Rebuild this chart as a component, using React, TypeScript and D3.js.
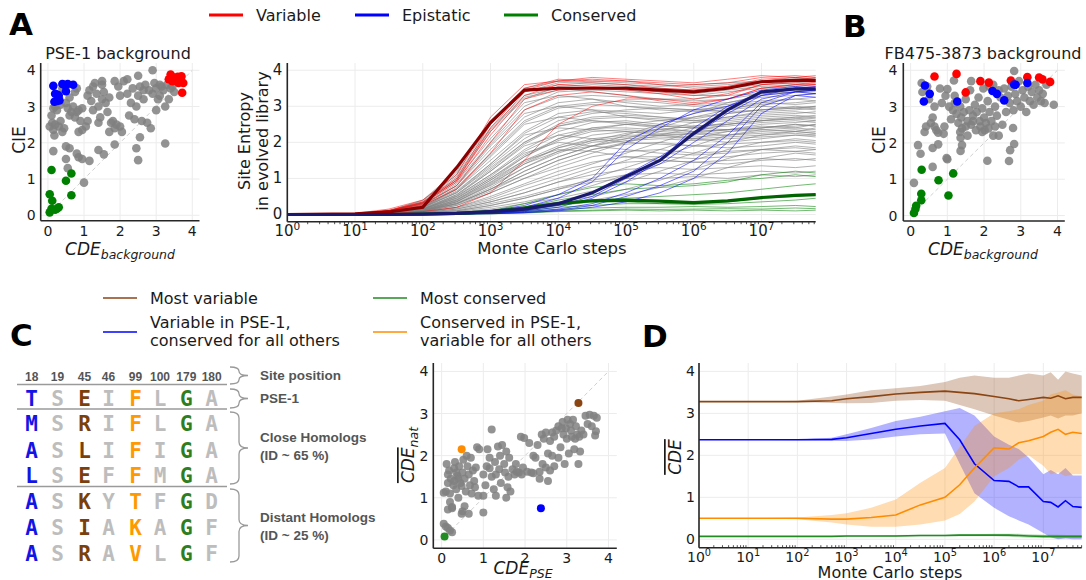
import * as d3 from "d3";

const FONT = "'DejaVu Sans', sans-serif";
const MONO = "'DejaVu Sans Mono', monospace";
const ARIAL = "'Liberation Sans', Arial, sans-serif";
const AXIS = "#262626";
const GRID = "#ececec";
const TXT = "#1a1a1a";

// ---------- panel A / B scatter data (CDE_background, CIE) ----------
const scatterAGray: [number, number][] = [
  [0.05, 2.45], [0.1, 2.75], [0.12, 2.55], [0.15, 2.35], [0.18, 2.2], [0.2, 2.5], [0.25, 2.9], [0.3, 2.45],
  [0.35, 2.6], [0.4, 2.3], [0.45, 2.4], [0.2, 3.0], [0.5, 3.1], [0.55, 2.95], [0.6, 2.75], [0.65, 2.85],
  [0.7, 3.0], [0.75, 2.7], [0.8, 2.85], [0.85, 2.9], [0.9, 2.6], [0.75, 3.4], [0.8, 3.5], [0.85, 2.3],
  [0.95, 2.35], [1.05, 2.45], [1.1, 3.3], [1.15, 3.45], [1.2, 3.15], [1.25, 2.9], [1.3, 3.65], [1.35, 3.35],
  [1.4, 3.0], [1.45, 2.7], [1.5, 3.7], [1.5, 3.2], [1.55, 3.4], [1.6, 3.1], [1.65, 2.85], [1.7, 3.25],
  [1.75, 2.55], [1.8, 2.6], [1.85, 2.4], [1.9, 2.5], [1.95, 3.55], [2.0, 2.45], [2.05, 2.3], [2.1, 3.7],
  [2.2, 3.35], [2.25, 2.75], [2.3, 3.1], [2.35, 3.5], [2.4, 2.65], [2.45, 3.0], [2.5, 3.3], [2.55, 3.55],
  [2.6, 2.6], [2.65, 3.2], [2.7, 3.6], [2.75, 2.55], [2.8, 3.45], [2.85, 2.4], [2.9, 3.35], [2.95, 3.65],
  [3.0, 2.9], [3.0, 3.5], [3.05, 3.2], [3.1, 3.3], [3.15, 3.55], [3.2, 3.45], [3.25, 3.0], [3.3, 3.6],
  [3.35, 3.2], [3.4, 3.5], [3.45, 3.55], [3.5, 3.4], [2.9, 4.0], [2.5, 3.85], [2.2, 3.75], [1.85, 3.7],
  [1.5, 3.6], [1.4, 2.55], [1.7, 2.3], [1.1, 2.6], [0.95, 2.95], [2.55, 2.15], [2.45, 1.85], [2.5, 1.52],
  [3.25, 1.98], [1.85, 1.95], [1.4, 1.8], [1.55, 1.68], [0.5, 1.9], [0.6, 1.85], [0.5, 1.55], [0.85, 1.6],
  [0.95, 1.55], [1.15, 1.5], [0.8, 1.7], [0.55, 1.3], [1.0, 0.9], [0.15, 1.77], [0.4, 3.5], [0.35, 3.05],
  [0.15, 2.95], [2.65, 3.45], [3.1, 3.6], [2.0, 3.3], [1.25, 3.55], [0.6, 3.25],
];
const scatterARed: [number, number][] = [
  [3.35, 3.75], [3.4, 3.88], [3.45, 3.7], [3.5, 3.8], [3.55, 3.75], [3.6, 3.82], [3.65, 3.72], [3.7, 3.83],
  [3.75, 3.65], [3.72, 3.38], [3.5, 3.72], [3.62, 3.65],
];
const scatterABlue: [number, number][] = [
  [0.15, 3.57], [0.4, 3.62], [0.45, 3.6], [0.55, 3.62], [0.7, 3.6], [0.2, 3.35], [0.25, 3.33], [0.3, 3.3],
  [0.5, 3.42], [0.18, 3.13], [0.25, 3.15], [0.32, 3.17],
];
const scatterAGreen: [number, number][] = [
  [0.1, 1.25], [0.65, 1.15], [0.5, 0.95], [0.05, 0.58], [0.12, 0.4], [0.65, 0.55], [0.3, 0.22], [0.25, 0.18],
  [0.1, 0.18], [0.05, 0.08], [0.2, 0.15],
];

const scatterBGray: [number, number][] = [
  [0.09, 0.9], [0.2, 1.94], [0.27, 1.7], [0.6, 1.34], [0.6, 1.86], [0.75, 1.96], [1.0, 1.55], [0.98, 1.58],
  [1.36, 2.14], [1.4, 1.94], [1.36, 1.78], [2.09, 1.51], [2.71, 1.8], [2.82, 1.97], [2.68, 1.5], [2.79, 2.41],
  [0.3, 3.65], [0.32, 3.4], [0.45, 3.55], [0.5, 3.2], [0.55, 2.55], [0.42, 2.45], [0.38, 2.3], [0.6, 2.7],
  [0.65, 2.45], [0.7, 2.35], [0.75, 2.28], [0.8, 3.5], [0.85, 3.1], [0.9, 2.25], [0.92, 2.45], [1.0, 3.48],
  [1.05, 3.0], [1.1, 2.65], [1.15, 2.9], [1.18, 3.72], [1.2, 3.3], [1.25, 2.8], [1.3, 2.55], [1.35, 3.0],
  [1.38, 2.7], [1.4, 2.4], [1.45, 2.85], [1.5, 3.2], [1.55, 2.6], [1.6, 2.9], [1.62, 3.45], [1.65, 2.5],
  [1.7, 2.75], [1.75, 3.05], [1.78, 2.35], [1.8, 2.85], [1.85, 3.25], [1.88, 2.6], [1.9, 2.45], [1.95, 2.95],
  [1.98, 3.5], [2.0, 2.7], [2.02, 2.35], [2.05, 2.55], [2.1, 3.15], [2.12, 2.4], [2.15, 2.85], [2.2, 2.6],
  [2.25, 3.6], [2.3, 3.0], [2.35, 2.75], [2.4, 3.45], [2.45, 3.25], [2.5, 2.5], [2.55, 3.5], [2.6, 2.85],
  [2.65, 3.3], [2.7, 3.1], [2.75, 3.55], [2.8, 2.9], [2.82, 3.98], [2.85, 3.35], [2.9, 3.15], [2.95, 3.7],
  [3.0, 3.0], [3.05, 3.45], [3.1, 3.25], [3.15, 2.85], [3.2, 3.55], [3.25, 3.15], [3.3, 3.4], [3.35, 3.05],
  [3.4, 3.6], [3.45, 3.25], [3.5, 3.45], [3.55, 3.15], [3.6, 3.35], [3.65, 3.1], [3.9, 3.05], [1.65, 3.7],
  [2.15, 3.55], [1.35, 2.3], [1.55, 2.2], [2.4, 2.2], [1.2, 3.1], [0.65, 3.0], [0.95, 3.3], [3.7, 3.6],
  [2.25, 2.2], [1.7, 2.6], [1.95, 2.3], [2.3, 2.45], [1.5, 2.45],
];
const scatterBRed: [number, number][] = [
  [0.65, 3.83], [1.25, 3.9], [1.5, 3.39], [1.9, 3.7], [2.13, 3.66], [2.73, 3.72], [3.18, 3.81], [3.5, 3.8],
  [3.59, 3.75], [3.8, 3.68],
];
const scatterBBlue: [number, number][] = [
  [0.39, 3.58], [0.52, 3.35], [0.36, 3.14], [1.27, 3.14], [2.23, 3.43], [2.35, 3.35], [2.55, 3.17], [2.82, 3.61],
  [2.86, 3.6], [3.18, 3.65],
];
const scatterBGreen: [number, number][] = [
  [0.3, 1.26], [1.16, 1.16], [0.76, 0.97], [0.29, 0.6], [0.29, 0.42], [1.03, 0.55], [0.15, 0.27], [0.13, 0.18],
  [0.09, 0.07],
];

// ---------- panel A: site entropy trajectories (log10 MC steps) ----------
const entropySteps = [0, 1, 1.5, 2, 2.5, 3, 3.5, 4, 4.5, 5, 5.5, 6, 6.5, 7, 7.5, 7.8];
const entropyGray: number[][] = [
  [0, 0.02, 0.1, 0.4, 1.2, 2.6, 3.5, 3.7, 3.65, 3.6, 3.55, 3.6, 3.65, 3.7, 3.75, 3.8],
  [0, 0.02, 0.08, 0.3, 0.9, 2.0, 3.0, 3.4, 3.45, 3.4, 3.35, 3.3, 3.4, 3.5, 3.55, 3.6],
  [0, 0.01, 0.06, 0.25, 0.8, 1.8, 2.7, 3.1, 3.2, 3.1, 3.0, 3.05, 3.1, 3.25, 3.3, 3.35],
  [0, 0.01, 0.05, 0.2, 0.7, 1.5, 2.3, 2.8, 2.9, 2.85, 2.8, 2.9, 3.0, 3.1, 3.05, 3.1],
  [0, 0.01, 0.05, 0.2, 0.6, 1.3, 2.0, 2.5, 2.7, 2.75, 2.7, 2.65, 2.8, 2.9, 2.95, 3.0],
  [0, 0.01, 0.04, 0.15, 0.5, 1.1, 1.8, 2.3, 2.55, 2.6, 2.5, 2.45, 2.5, 2.6, 2.7, 2.65],
  [0, 0.01, 0.04, 0.15, 0.45, 1.0, 1.6, 2.1, 2.4, 2.5, 2.45, 2.4, 2.35, 2.4, 2.5, 2.45],
  [0, 0.01, 0.03, 0.12, 0.4, 0.9, 1.5, 1.9, 2.2, 2.3, 2.25, 2.2, 2.3, 2.35, 2.3, 2.4],
  [0, 0.01, 0.03, 0.1, 0.35, 0.8, 1.3, 1.7, 2.0, 2.1, 2.15, 2.1, 2.0, 2.1, 2.2, 2.15],
  [0, 0.01, 0.03, 0.1, 0.3, 0.7, 1.1, 1.5, 1.8, 1.95, 2.0, 1.9, 1.85, 1.9, 2.0, 1.95],
  [0, 0.01, 0.02, 0.08, 0.25, 0.6, 1.0, 1.3, 1.6, 1.75, 1.8, 1.7, 1.75, 1.8, 1.85, 1.8],
  [0, 0.01, 0.02, 0.07, 0.2, 0.5, 0.85, 1.2, 1.45, 1.6, 1.6, 1.55, 1.6, 1.7, 1.75, 1.7],
  [0, 0.01, 0.02, 0.06, 0.18, 0.4, 0.7, 1.0, 1.3, 1.45, 1.5, 1.45, 1.4, 1.5, 1.55, 1.5],
  [0, 0.01, 0.02, 0.05, 0.15, 0.35, 0.6, 0.9, 1.1, 1.25, 1.3, 1.25, 1.3, 1.35, 1.3, 1.35],
  [0, 0, 0.01, 0.04, 0.12, 0.3, 0.5, 0.75, 0.95, 1.1, 1.15, 1.1, 1.15, 1.2, 1.15, 1.2],
  [0, 0, 0.01, 0.04, 0.1, 0.25, 0.45, 0.7, 0.9, 1.0, 1.0, 1.05, 1.0, 1.1, 1.05, 1.1],
  [0, 0.02, 0.09, 0.35, 1.1, 2.4, 3.3, 3.5, 3.4, 3.3, 3.2, 3.2, 3.3, 3.35, 3.4, 3.45],
  [0, 0.02, 0.07, 0.3, 0.95, 2.1, 3.1, 3.3, 3.2, 3.0, 2.9, 2.85, 2.9, 3.0, 2.95, 3.0],
  [0, 0.01, 0.06, 0.25, 0.8, 1.9, 2.8, 3.0, 2.9, 2.7, 2.6, 2.55, 2.6, 2.7, 2.75, 2.7],
  [0, 0.01, 0.05, 0.2, 0.7, 1.6, 2.5, 2.7, 2.6, 2.5, 2.4, 2.3, 2.35, 2.4, 2.5, 2.45],
  [0, 0.01, 0.05, 0.2, 0.65, 1.4, 2.2, 2.4, 2.35, 2.3, 2.2, 2.1, 2.15, 2.2, 2.25, 2.2],
  [0, 0.01, 0.04, 0.15, 0.55, 1.2, 1.9, 2.2, 2.1, 2.0, 1.95, 1.9, 1.95, 2.0, 2.05, 2.0],
  [0, 0.01, 0.04, 0.14, 0.5, 1.1, 1.7, 2.0, 1.9, 1.8, 1.7, 1.65, 1.7, 1.8, 1.75, 1.8],
  [0, 0.01, 0.03, 0.12, 0.4, 0.95, 1.5, 1.8, 1.75, 1.6, 1.5, 1.45, 1.5, 1.55, 1.5, 1.55],
  [0, 0.01, 0.03, 0.1, 0.35, 0.85, 1.4, 1.75, 1.9, 2.1, 2.4, 2.7, 2.9, 3.1, 3.2, 3.15],
  [0, 0.01, 0.03, 0.1, 0.3, 0.7, 1.2, 1.6, 1.9, 2.2, 2.5, 2.8, 3.1, 3.3, 3.4, 3.35],
  [0, 0.01, 0.02, 0.08, 0.25, 0.6, 1.0, 1.4, 1.7, 2.0, 2.3, 2.55, 2.7, 2.85, 2.9, 2.95],
  [0, 0.01, 0.02, 0.06, 0.2, 0.45, 0.8, 1.1, 1.4, 1.7, 2.0, 2.3, 2.5, 2.6, 2.65, 2.7],
  [0, 0.01, 0.02, 0.05, 0.15, 0.35, 0.6, 0.9, 1.2, 1.5, 1.8, 2.1, 2.3, 2.4, 2.45, 2.5],
  [0, 0, 0.01, 0.04, 0.1, 0.25, 0.45, 0.7, 1.0, 1.3, 1.6, 1.9, 2.2, 2.35, 2.4, 2.35],
  [0, 0, 0.01, 0.03, 0.08, 0.2, 0.35, 0.55, 0.8, 1.1, 1.4, 1.7, 2.0, 2.2, 2.3, 2.25],
  [0, 0, 0.01, 0.03, 0.07, 0.15, 0.3, 0.45, 0.65, 0.9, 1.2, 1.5, 1.8, 2.0, 2.1, 2.05],
  [0, 0, 0.01, 0.02, 0.05, 0.12, 0.22, 0.35, 0.5, 0.7, 0.95, 1.25, 1.55, 1.8, 1.9, 1.85],
  [0, 0, 0.01, 0.02, 0.04, 0.1, 0.18, 0.28, 0.4, 0.55, 0.75, 1.0, 1.3, 1.55, 1.7, 1.65],
  [0, 0.02, 0.1, 0.38, 1.15, 2.5, 3.4, 3.65, 3.7, 3.65, 3.6, 3.55, 3.6, 3.7, 3.8, 3.75],
  [0, 0.02, 0.08, 0.32, 1.0, 2.3, 3.2, 3.55, 3.6, 3.55, 3.5, 3.45, 3.5, 3.6, 3.65, 3.7],
  [0, 0.01, 0.06, 0.22, 0.75, 1.7, 2.6, 3.0, 3.1, 3.15, 3.1, 3.0, 3.05, 3.15, 3.2, 3.25],
  [0, 0.01, 0.05, 0.18, 0.6, 1.35, 2.1, 2.6, 2.8, 2.9, 2.95, 2.9, 2.85, 2.9, 3.0, 2.95],
  [0, 0.01, 0.04, 0.16, 0.52, 1.2, 1.95, 2.45, 2.65, 2.7, 2.65, 2.6, 2.65, 2.75, 2.8, 2.85],
  [0, 0.01, 0.03, 0.11, 0.38, 0.88, 1.45, 1.85, 2.05, 2.15, 2.2, 2.25, 2.35, 2.5, 2.55, 2.6],
  [0, 0.02, 0.09, 0.33, 1.05, 2.35, 3.25, 3.45, 3.5, 3.45, 3.4, 3.35, 3.45, 3.55, 3.6, 3.65],
  [0, 0.01, 0.07, 0.27, 0.85, 1.95, 2.9, 3.25, 3.3, 3.25, 3.2, 3.15, 3.2, 3.35, 3.45, 3.4],
  [0, 0.01, 0.06, 0.23, 0.72, 1.65, 2.55, 2.95, 3.05, 3.0, 2.95, 2.9, 2.95, 3.05, 3.1, 3.15],
  [0, 0.01, 0.05, 0.19, 0.62, 1.4, 2.25, 2.7, 2.85, 2.8, 2.7, 2.6, 2.7, 2.8, 2.85, 2.8],
  [0, 0.01, 0.04, 0.17, 0.55, 1.25, 2.0, 2.45, 2.6, 2.55, 2.45, 2.4, 2.45, 2.55, 2.6, 2.55],
  [0, 0.01, 0.04, 0.14, 0.47, 1.05, 1.75, 2.2, 2.4, 2.4, 2.35, 2.3, 2.35, 2.45, 2.4, 2.5],
  [0, 0.01, 0.03, 0.12, 0.42, 0.95, 1.6, 2.05, 2.3, 2.35, 2.3, 2.25, 2.2, 2.3, 2.35, 2.3],
  [0, 0.01, 0.03, 0.11, 0.36, 0.82, 1.4, 1.85, 2.1, 2.2, 2.2, 2.15, 2.2, 2.25, 2.3, 2.25],
  [0, 0.01, 0.02, 0.09, 0.3, 0.7, 1.2, 1.6, 1.9, 2.05, 2.1, 2.05, 2.1, 2.15, 2.2, 2.2],
  [0, 0.01, 0.03, 0.13, 0.45, 1.0, 1.65, 2.1, 2.35, 2.5, 2.6, 2.7, 2.8, 2.9, 2.95, 2.9],
  [0, 0.01, 0.02, 0.08, 0.28, 0.65, 1.1, 1.5, 1.8, 2.0, 2.2, 2.4, 2.55, 2.65, 2.7, 2.75],
  [0, 0.01, 0.02, 0.1, 0.32, 0.75, 1.3, 1.75, 2.05, 2.25, 2.35, 2.45, 2.5, 2.6, 2.65, 2.6],
];
const entropyRed: number[][] = [
  [0, 0.02, 0.1, 0.3, 0.9, 2.2, 3.3, 3.6, 3.65, 3.6, 3.5, 3.45, 3.55, 3.75, 3.8, 3.75],
  [0, 0.02, 0.12, 0.35, 1.0, 2.5, 3.5, 3.75, 3.7, 3.7, 3.65, 3.6, 3.65, 3.8, 3.85, 3.8],
  [0, 0.03, 0.15, 0.4, 1.1, 2.7, 3.6, 3.7, 3.75, 3.7, 3.6, 3.5, 3.55, 3.7, 3.75, 3.7],
  [0, 0.02, 0.1, 0.28, 0.8, 2.0, 3.2, 3.45, 3.5, 3.45, 3.35, 3.2, 3.35, 3.6, 3.65, 3.6],
  [0, 0.02, 0.08, 0.25, 0.7, 1.7, 2.9, 3.3, 3.4, 3.3, 3.15, 3.05, 3.2, 3.5, 3.6, 3.55],
  [0, 0.01, 0.03, 0.08, 0.2, 0.6, 1.5, 2.5, 3.0, 3.2, 3.2, 3.1, 3.2, 3.5, 3.6, 3.6],
  [0, 0.02, 0.1, 0.32, 0.95, 2.3, 3.4, 3.6, 3.55, 3.5, 3.4, 3.3, 3.3, 3.6, 3.7, 3.65],
  [0, 0.02, 0.11, 0.33, 0.95, 2.4, 3.45, 3.7, 3.8, 3.75, 3.7, 3.65, 3.75, 3.85, 3.8, 3.85],
];
const entropyBlue: number[][] = [
  [0, 0, 0, 0.01, 0.03, 0.07, 0.15, 0.3, 0.6, 1.1, 1.6, 2.2, 2.8, 3.3, 3.5, 3.55],
  [0, 0, 0, 0.01, 0.02, 0.05, 0.1, 0.2, 0.45, 0.9, 1.5, 2.4, 3.0, 3.4, 3.5, 3.45],
  [0, 0, 0, 0.01, 0.03, 0.08, 0.2, 0.45, 0.9, 1.8, 2.4, 2.9, 3.2, 3.45, 3.55, 3.5],
  [0, 0, 0, 0, 0.02, 0.04, 0.08, 0.15, 0.3, 0.6, 1.0, 1.5, 2.2, 3.1, 3.4, 3.45],
  [0, 0, 0, 0, 0.01, 0.03, 0.06, 0.12, 0.25, 0.5, 0.8, 1.2, 2.0, 3.0, 3.3, 3.35],
  [0, 0, 0, 0.01, 0.02, 0.06, 0.12, 0.25, 0.5, 1.0, 1.4, 2.0, 2.6, 3.2, 3.4, 3.35],
  [0, 0, 0, 0.01, 0.04, 0.1, 0.25, 0.55, 1.0, 2.0, 2.5, 2.8, 3.0, 3.3, 3.4, 3.45],
  [0, 0, 0, 0, 0.01, 0.02, 0.05, 0.1, 0.2, 0.35, 0.6, 1.0, 1.7, 2.8, 3.3, 3.25],
];
const entropyGreen: number[][] = [
  [0, 0, 0, 0.01, 0.03, 0.08, 0.2, 0.4, 0.55, 0.7, 0.75, 0.8, 0.9, 1.1, 1.2, 1.15],
  [0, 0, 0, 0.01, 0.03, 0.1, 0.3, 0.55, 0.75, 0.85, 0.8, 0.85, 0.95, 1.0, 1.1, 1.05],
  [0, 0, 0, 0.01, 0.02, 0.06, 0.15, 0.3, 0.4, 0.45, 0.5, 0.55, 0.6, 0.7, 0.8, 0.85],
  [0, 0, 0, 0, 0.02, 0.05, 0.12, 0.25, 0.35, 0.35, 0.3, 0.3, 0.35, 0.45, 0.5, 0.55],
  [0, 0, 0, 0, 0.01, 0.04, 0.1, 0.2, 0.25, 0.3, 0.3, 0.28, 0.3, 0.35, 0.4, 0.45],
  [0, 0, 0, 0, 0.01, 0.03, 0.08, 0.14, 0.18, 0.2, 0.2, 0.22, 0.2, 0.22, 0.25, 0.22],
  [0, 0, 0, 0, 0.01, 0.02, 0.05, 0.1, 0.12, 0.15, 0.14, 0.15, 0.16, 0.15, 0.18, 0.16],
  [0, 0, 0, 0, 0.01, 0.02, 0.04, 0.08, 0.1, 0.12, 0.1, 0.12, 0.1, 0.12, 0.1, 0.12],
];
const entropyRedMean = [0, 0.02, 0.07, 0.2, 1.3, 2.55, 3.45, 3.5, 3.5, 3.5, 3.45, 3.4, 3.5, 3.68, 3.72, 3.72];
const entropyBlueMean = [0, 0, 0, 0.01, 0.03, 0.08, 0.15, 0.3, 0.6, 1.05, 1.5, 2.25, 2.9, 3.4, 3.48, 3.48];
const entropyGreenMean = [0, 0, 0, 0.01, 0.03, 0.08, 0.18, 0.3, 0.38, 0.4, 0.37, 0.33, 0.38, 0.47, 0.53, 0.55];

// ---------- panel C ----------
const sitePositions = ["18", "19", "45", "46", "99", "100", "179", "180"];
const pseRow = "TSEIFLGA";
const closeRows = ["MSRIFLGA", "ASLIFIGA", "LSEFFMGA"];
const distantRows = ["ASKYTFGD", "ASIAKAGF", "ASRAVLGF"];
const siteGroup = ["epi", "other", "var", "other", "cons", "other", "green", "other"];

const cdeGray: [number, number][] = [
  [0.05, 1.12], [0.1, 1.15], [0.12, 1.8], [0.15, 1.55], [0.15, 1.35], [0.18, 1.65], [0.2, 1.1], [0.2, 0.9],
  [0.25, 0.78], [0.22, 1.45], [0.28, 1.3], [0.3, 1.7], [0.32, 1.85], [0.35, 1.2], [0.38, 1.52], [0.4, 1.0],
  [0.42, 1.75], [0.45, 1.35], [0.48, 1.28], [0.5, 1.6], [0.52, 1.9], [0.55, 1.45], [0.58, 1.15], [0.6, 2.0],
  [0.62, 1.75], [0.65, 1.55], [0.68, 1.3], [0.7, 1.95], [0.72, 1.1], [0.75, 1.65], [0.78, 1.4], [0.8, 1.25],
  [0.82, 1.72], [0.85, 2.2], [0.88, 1.05], [0.9, 2.15], [0.5, 0.68], [0.48, 0.62], [0.55, 0.8], [0.65, 0.62],
  [0.15, 0.72], [0.25, 0.75], [0.4, 1.45], [0.35, 1.6], [0.3, 1.4], [1.0, 1.05], [1.05, 1.3], [1.0, 1.55],
  [1.08, 1.75], [1.1, 2.15], [1.15, 1.7], [1.2, 1.5], [1.2, 2.62], [1.25, 1.2], [1.28, 1.85], [1.3, 1.55],
  [1.35, 2.22], [1.38, 1.68], [1.4, 2.0], [1.42, 1.35], [1.45, 2.25], [1.5, 1.8], [1.52, 1.6], [1.55, 2.1],
  [1.58, 1.25], [1.6, 1.5], [1.62, 1.95], [1.65, 1.15], [1.7, 1.68], [1.75, 1.55], [1.78, 1.8], [1.8, 1.62],
  [1.85, 1.6], [1.9, 2.45], [1.92, 1.55], [1.95, 1.72], [1.98, 2.42], [1.0, 0.65], [1.3, 1.05], [1.55, 1.0],
  [1.15, 1.95], [2.05, 1.62], [2.1, 2.3], [2.15, 1.6], [2.2, 2.0], [2.25, 1.95], [2.3, 2.25], [2.35, 1.62],
  [2.4, 2.5], [2.42, 1.8], [2.45, 2.4], [2.5, 1.72], [2.5, 2.55], [2.55, 2.05], [2.55, 1.4], [2.6, 2.35],
  [2.65, 2.55], [2.7, 1.75], [2.7, 2.45], [2.75, 2.6], [2.8, 1.95], [2.8, 2.7], [2.85, 2.2], [2.9, 2.8],
  [2.92, 2.5], [2.95, 1.8], [2.98, 2.65], [3.0, 2.4], [3.02, 2.85], [3.05, 2.05], [3.1, 2.6], [3.12, 2.45],
  [3.15, 2.85], [3.18, 2.15], [3.2, 2.4], [3.22, 2.7], [3.25, 2.5], [3.28, 1.8], [3.3, 2.45], [3.32, 2.1],
  [3.35, 2.6], [3.4, 2.5], [3.45, 2.95], [3.5, 2.75], [3.55, 2.97], [3.6, 2.7], [3.65, 2.95], [3.7, 2.58],
  [3.72, 2.9], [3.68, 2.48], [2.35, 1.45], [2.6, 1.65], [2.65, 2.0], [2.88, 2.65], [3.08, 2.75], [2.2, 1.58],
  [0.05, 0.38], [0.1, 0.32], [0.15, 0.28], [0.25, 0.18], [0.2, 0.22],
];
const cdeMostVariable: [number, number] = [3.28, 3.25];
const cdePseConserved: [number, number] = [0.48, 2.15];
const cdePseVariable: [number, number] = [2.38, 0.75];
const cdeMostConserved: [number, number] = [0.07, 0.08];

// ---------- panel D: mean CDE vs MC steps ----------
const dSteps = [0, 1, 2, 2.7, 3, 3.5, 4, 4.5, 5, 5.3, 5.6, 6, 6.3, 6.5, 6.7, 7, 7.15, 7.3, 7.45, 7.6, 7.78];
const brownMean = [3.28, 3.28, 3.28, 3.3, 3.35, 3.4, 3.46, 3.5, 3.53, 3.5, 3.47, 3.4, 3.35, 3.3, 3.33, 3.38, 3.36, 3.42, 3.35, 3.38, 3.38];
const brownLo = [3.28, 3.28, 3.27, 3.25, 3.24, 3.25, 3.3, 3.32, 3.3, 3.2, 3.1, 2.95, 2.85, 2.78, 2.82, 2.9, 2.95, 2.88, 2.95, 2.95, 3.0];
const brownHi = [3.28, 3.28, 3.3, 3.4, 3.45, 3.55, 3.6, 3.65, 3.75, 3.85, 3.9, 3.85, 3.85, 3.9, 3.95, 3.9, 3.98, 3.8, 4.0, 3.95, 3.9];
const blueMean = [2.37, 2.37, 2.37, 2.38, 2.42, 2.52, 2.62, 2.7, 2.76, 2.37, 1.8, 1.4, 1.38, 1.25, 1.25, 0.9, 0.88, 0.77, 0.92, 0.78, 0.76];
const blueLo = [2.37, 2.37, 2.36, 2.34, 2.34, 2.38, 2.45, 2.5, 2.52, 1.8, 1.1, 0.75, 0.55, 0.45, 0.35, 0.15, 0.05, 0.0, 0.02, 0.0, 0.0];
const blueHi = [2.37, 2.37, 2.38, 2.42, 2.5, 2.65, 2.82, 2.92, 3.05, 3.13, 2.95, 2.45, 2.25, 2.15, 1.95, 1.55, 1.65, 1.55, 1.7, 1.52, 1.52];
const orangeMean = [0.5, 0.5, 0.5, 0.48, 0.48, 0.52, 0.58, 0.82, 1.0, 1.3, 1.7, 2.18, 2.15, 2.3, 2.35, 2.45, 2.55, 2.62, 2.5, 2.55, 2.52];
const orangeLo = [0.5, 0.5, 0.48, 0.4, 0.35, 0.3, 0.3, 0.35, 0.45, 0.6, 0.9, 1.5, 1.7, 1.9, 2.0, 1.75, 1.55, 1.6, 1.5, 1.55, 1.55];
const orangeHi = [0.5, 0.5, 0.52, 0.58, 0.62, 0.75, 0.95, 1.35, 1.7, 2.2, 2.7, 3.0, 3.05, 3.1, 3.2, 3.3, 3.45, 3.5, 3.55, 3.45, 3.4];
const greenMean = [0.07, 0.07, 0.07, 0.07, 0.08, 0.08, 0.08, 0.09, 0.09, 0.1, 0.1, 0.1, 0.1, 0.09, 0.08, 0.07, 0.07, 0.07, 0.07, 0.07, 0.07];
const greenLo = [0.06, 0.06, 0.06, 0.06, 0.06, 0.06, 0.06, 0.07, 0.07, 0.07, 0.07, 0.07, 0.06, 0.05, 0.04, 0.03, 0.03, 0.02, 0.03, 0.03, 0.03];
const greenHi = [0.08, 0.08, 0.08, 0.08, 0.09, 0.09, 0.1, 0.11, 0.11, 0.12, 0.12, 0.13, 0.13, 0.13, 0.12, 0.11, 0.11, 0.11, 0.1, 0.1, 0.1];

const BROWN = "#8b4513";
const ORANGE = "#ff8c00";
const DGREEN = "#228b22";
const SEQ_COLORS: Record<string, string> = {
  epi: "#1414e6",
  other: "#bdbdbd",
  var: "#7b3f0c",
  cons: "#ff9900",
  green: "#2e7d1e",
};

const ticks04 = [0, 1, 2, 3, 4];

function Pow({ x, y, e, size = 14 }: { x: number; y: number; e: number; size?: number }) {
  return (
    <text x={x} y={y} textAnchor="middle" fontSize={size} fill={TXT}>
      <tspan>10</tspan>
      <tspan dy={-size * 0.42} fontSize={size * 0.7}>{e}</tspan>
    </text>
  );
}

function Spines({ x0, x1, y0, y1 }: { x0: number; x1: number; y0: number; y1: number }) {
  return (
    <g stroke={AXIS} strokeWidth={1.6} fill="none">
      <line x1={x0} y1={y0} x2={x0} y2={y1} />
      <line x1={x0} y1={y1} x2={x1} y2={y1} />
    </g>
  );
}

type Pt = [number, number];

function Scatter(props: {
  left: number; right: number; top: number; bottom: number;
  yDom: [number, number]; r: number;
  gray: Pt[]; colored: { pts: Pt[]; color: string }[];
  yGap: number;
}) {
  const { left, right, top, bottom, yDom, r, gray, colored, yGap } = props;
  const x = d3.scaleLinear().domain([-0.2, 4.2]).range([left, right]);
  const y = d3.scaleLinear().domain(yDom).range([bottom, top]);
  return (
    <g>
      {ticks04.map((t) => (
        <g key={t} stroke={GRID} strokeWidth={1}>
          <line x1={x(t)} x2={x(t)} y1={top} y2={bottom} />
          <line x1={left} x2={right} y1={y(t)} y2={y(t)} />
        </g>
      ))}
      <line x1={x(0)} y1={y(0)} x2={x(4)} y2={y(4)} stroke="#d0d0d0" strokeWidth={1} strokeDasharray="4,3" />
      {gray.map((p, i) => (
        <circle key={i} cx={x(p[0])} cy={y(p[1])} r={r} fill="#808080" fillOpacity={0.85} />
      ))}
      {colored.map((c) =>
        c.pts.map((p, i) => <circle key={c.color + i} cx={x(p[0])} cy={y(p[1])} r={r} fill={c.color} />)
      )}
      <Spines x0={left} x1={right} y0={top} y1={bottom} />
      {ticks04.map((t) => (
        <g key={t} fontSize={14} fill={TXT}>
          <text x={x(t)} y={bottom + 15} textAnchor="middle">{t}</text>
          <text x={left - yGap} y={y(t) + 5} textAnchor="end">{t}</text>
        </g>
      ))}
    </g>
  );
}

function Brace({ x, y1, y2, w }: { x: number; y1: number; y2: number; w: number }) {
  const ym = (y1 + y2) / 2;
  const mx = x + w * 0.5;
  const r = Math.min(6, (y2 - y1) / 4);
  const d = `M${x},${y1} Q${mx},${y1} ${mx},${y1 + r} L${mx},${ym - r} Q${mx},${ym} ${x + w},${ym} Q${mx},${ym} ${mx},${ym + r} L${mx},${y2 - r} Q${mx},${y2} ${x},${y2}`;
  return <path d={d} fill="none" stroke="#9a9a9a" strokeWidth={1.3} />;
}

function logMinor(maxExp: number) {
  const out: number[] = [];
  for (let k = 0; k < Math.ceil(maxExp); k++) {
    for (let m = 2; m <= 9; m++) {
      const v = Math.log10(m) + k;
      if (v <= maxExp) out.push(v);
    }
  }
  return out;
}

export default function App() {
  // ---- panel A middle ----
  const aL = 287.3, aR = 815.7, aT = 63, aB = 221.7;
  const ax = d3.scaleLinear().domain([0, 7.8]).range([aL, aR]);
  const ay = d3.scaleLinear().domain([-0.2, 4.2]).range([aB, aT]);
  const aLine = d3.line<number>().x((_, i) => ax(entropySteps[i])).y((v) => ay(v));

  // ---- panel D ----
  const dL = 699, dR = 1081.7, dT = 363, dB = 547.7;
  const dx = d3.scaleLinear().domain([0, 7.78]).range([dL, dR]);
  const dy = d3.scaleLinear().domain([-0.2, 4.2]).range([dB, dT]);
  const dLine = d3.line<number>().x((_, i) => dx(dSteps[i])).y((v) => dy(v));
  const dArea = (lo: number[], hi: number[]) =>
    d3.area<number>().x((_, i) => dx(dSteps[i])).y0((_, i) => dy(lo[i])).y1((v) => dy(v))(hi) || "";

  const decades8 = [0, 1, 2, 3, 4, 5, 6, 7];

  const seqCols = [31.7, 57.5, 84.5, 108.5, 135.5, 160, 186.3, 211.7];
  const rowYs = [398, 423.3, 450, 475, 501.7, 527.3, 553.3];
  const allRows = [pseRow, ...closeRows, ...distantRows];

  return (
    <svg width={1086} height={580} style={{ position: "absolute", left: 0, top: 0, background: "#fff" }} fontFamily={FONT}>
      {/* ================= Panel A ================= */}
      <text x={9} y={35} fontSize={31} fontWeight="bold" fill="#000">A</text>
      <text x={118} y={59} fontSize={16} textAnchor="middle" fill={TXT}>PSE-1 background</text>
      <Scatter left={40.7} right={199.5} top={63} bottom={220.7} yDom={[-0.15, 4.2]} r={4.3} yGap={5}
        gray={scatterAGray}
        colored={[{ pts: scatterABlue, color: "#0000ff" }, { pts: scatterARed, color: "#ff0000" }, { pts: scatterAGreen, color: "#008000" }]} />
      <text transform="translate(25,140) rotate(-90)" fontSize={17} textAnchor="middle" fill={TXT}>CIE</text>
      <text x={120} y={255} textAnchor="middle" fill={TXT} fontStyle="italic">
        <tspan fontSize={17}>CDE</tspan><tspan fontSize={12.5} dy={4}>background</tspan>
      </text>

      {/* legend */}
      {[
        { c: "#ff0000", t: "Variable", x: 209 },
        { c: "#0000ff", t: "Epistatic", x: 355 },
        { c: "#008000", t: "Conserved", x: 504 },
      ].map((l) => (
        <g key={l.t}>
          <line x1={l.x} x2={l.x + 34} y1={15} y2={15} stroke={l.c} strokeWidth={3} />
          <text x={l.x + 47} y={21} fontSize={16} fill={TXT}>{l.t}</text>
        </g>
      ))}

      {/* middle entropy plot */}
      {decades8.map((k) => (
        <line key={k} x1={ax(k)} x2={ax(k)} y1={aT} y2={aB} stroke={GRID} />
      ))}
      {ticks04.map((t) => (
        <line key={t} x1={aL} x2={aR} y1={ay(t)} y2={ay(t)} stroke={GRID} />
      ))}
      <g fill="none">
        {entropyGray.map((s, i) => (
          <path key={i} d={aLine(s) || ""} stroke="#808080" strokeOpacity={0.6} strokeWidth={1} />
        ))}
        {entropyRed.map((s, i) => (
          <path key={i} d={aLine(s) || ""} stroke="#ff0000" strokeOpacity={0.5} strokeWidth={1} />
        ))}
        {entropyGreen.map((s, i) => (
          <path key={i} d={aLine(s) || ""} stroke="#008000" strokeOpacity={0.55} strokeWidth={1} />
        ))}
        {entropyBlue.map((s, i) => (
          <path key={i} d={aLine(s) || ""} stroke="#0000ff" strokeOpacity={0.55} strokeWidth={1} />
        ))}
        <path d={aLine(entropyRedMean) || ""} stroke="#8b0000" strokeWidth={3.2} />
        <path d={aLine(entropyGreenMean) || ""} stroke="#006400" strokeWidth={3.2} />
        <path d={aLine(entropyBlueMean) || ""} stroke="#191970" strokeWidth={3.2} />
      </g>
      <Spines x0={aL} x1={aR} y0={aT} y1={aB} />
      {logMinor(7.8).map((v) => (
        <line key={v} x1={ax(v)} x2={ax(v)} y1={aB} y2={aB + 2.5} stroke={AXIS} strokeWidth={0.8} />
      ))}
      {decades8.map((k) => (
        <Pow key={k} x={ax(k)} y={aB + 14.5} e={k} size={15} />
      ))}
      {ticks04.map((t) => (
        <text key={t} x={aL - 5} y={ay(t) + 5} textAnchor="end" fontSize={15} fill={TXT}>{t}</text>
      ))}
      <text transform="translate(250,141) rotate(-90)" fontSize={16} textAnchor="middle" fill={TXT}>Site Entropy</text>
      <text transform="translate(268,141) rotate(-90)" fontSize={16} textAnchor="middle" fill={TXT}>in evolved library</text>
      <text x={552} y={254} fontSize={16.5} textAnchor="middle" fill={TXT}>Monte Carlo steps</text>

      {/* ================= Panel B ================= */}
      <text x={843} y={37} fontSize={31} fontWeight="bold" fill="#000">B</text>
      <text x={983} y={59} fontSize={16} textAnchor="middle" fill={TXT}>FB475-3873 background</text>
      <Scatter left={903.3} right={1064.8} top={63} bottom={221} yDom={[-0.15, 4.2]} r={4.3} yGap={6}
        gray={scatterBGray}
        colored={[{ pts: scatterBRed, color: "#ff0000" }, { pts: scatterBBlue, color: "#0000ff" }, { pts: scatterBGreen, color: "#008000" }]} />
      <text transform="translate(885,140) rotate(-90)" fontSize={17} textAnchor="middle" fill={TXT}>CIE</text>
      <text x={983} y={255} textAnchor="middle" fill={TXT} fontStyle="italic">
        <tspan fontSize={17}>CDE</tspan><tspan fontSize={12.5} dy={4}>background</tspan>
      </text>

      {/* ================= Panel C ================= */}
      <text x={10} y={346} fontSize={31} fontWeight="bold" fill="#000">C</text>
      {/* legend C/D */}
      <line x1={103} x2={137} y1={298} y2={298} stroke={BROWN} strokeWidth={1.5} />
      <text x={150} y={304} fontSize={16} fill={TXT}>Most variable</text>
      <line x1={103} x2={137} y1={332} y2={332} stroke="#0000ff" strokeWidth={1.5} />
      <text x={150} y={328} fontSize={16} fill={TXT}>Variable in PSE-1,</text>
      <text x={150} y={346} fontSize={16} fill={TXT}>conserved for all others</text>
      <line x1={373} x2={407} y1={298} y2={298} stroke={DGREEN} strokeWidth={1.5} />
      <text x={420} y={304} fontSize={16} fill={TXT}>Most conserved</text>
      <line x1={373} x2={407} y1={332} y2={332} stroke={ORANGE} strokeWidth={1.5} />
      <text x={420} y={328} fontSize={16} fill={TXT}>Conserved in PSE-1,</text>
      <text x={420} y={346} fontSize={16} fill={TXT}>variable for all others</text>

      {/* sequence table */}
      {sitePositions.map((p, i) => (
        <text key={p} x={seqCols[i]} y={380.5} fontFamily={ARIAL} fontSize={12} fontWeight="bold" fill="#555" textAnchor="middle">{p}</text>
      ))}
      {[384.5, 409, 486.5].map((yy) => (
        <line key={yy} x1={17} x2={227} y1={yy} y2={yy} stroke="#9a9a9a" strokeWidth={1.5} />
      ))}
      {allRows.map((row, r) =>
        row.split("").map((ch, c) => (
          <text key={r + "-" + c} x={seqCols[c]} y={rowYs[r] + 7.5} fontFamily={MONO} fontWeight="bold" fontSize={21}
            fill={SEQ_COLORS[siteGroup[c]]} textAnchor="middle">{ch}</text>
        ))
      )}
      <Brace x={230} y1={367} y2={384} w={18} />
      <Brace x={230} y1={389} y2={408} w={18} />
      <Brace x={230} y1={412} y2={484} w={18} />
      <Brace x={230} y1={489} y2={562} w={18} />
      <g fontFamily={ARIAL} fontSize={13.5} fontWeight="bold" fill="#555">
        <text x={260} y={380}>Site position</text>
        <text x={260} y={403}>PSE-1</text>
        <text x={260} y={442}>Close Homologs</text>
        <text x={260} y={460}>(ID ~ 65 %)</text>
        <text x={260} y={522}>Distant Homologs</text>
        <text x={260} y={540}>(ID ~ 25 %)</text>
      </g>

      {/* CDE scatter */}
      <Scatter left={433.3} right={616.8} top={363} bottom={548.3} yDom={[-0.2, 4.2]} r={4} yGap={5}
        gray={cdeGray}
        colored={[
          { pts: [cdeMostVariable], color: BROWN },
          { pts: [cdePseConserved], color: ORANGE },
          { pts: [cdePseVariable], color: "#0000ff" },
          { pts: [cdeMostConserved], color: DGREEN },
        ]} />
      <text transform="translate(414,455) rotate(-90)" textAnchor="middle" fill={TXT} fontStyle="italic">
        <tspan fontSize={17} textDecoration="overline">CDE</tspan><tspan fontSize={12.5} dy={4}>nat</tspan>
      </text>
      <text x={523} y={574} textAnchor="middle" fill={TXT} fontStyle="italic">
        <tspan fontSize={17}>CDE</tspan><tspan fontSize={12.5} dy={3.5}>PSE</tspan>
      </text>

      {/* ================= Panel D ================= */}
      <text x={642} y={347} fontSize={31} fontWeight="bold" fill="#000">D</text>
      {decades8.map((k) => (
        <line key={k} x1={dx(k)} x2={dx(k)} y1={dT} y2={dB} stroke={GRID} />
      ))}
      {ticks04.map((t) => (
        <line key={t} x1={dL} x2={dR} y1={dy(t)} y2={dy(t)} stroke={GRID} />
      ))}
      <path d={dArea(brownLo, brownHi)} fill={BROWN} fillOpacity={0.3} />
      <path d={dArea(blueLo, blueHi)} fill="#0000ff" fillOpacity={0.3} />
      <path d={dArea(orangeLo, orangeHi)} fill={ORANGE} fillOpacity={0.3} />
      <path d={dArea(greenLo, greenHi)} fill={DGREEN} fillOpacity={0.3} />
      <g fill="none" strokeWidth={1.6}>
        <path d={dLine(brownMean) || ""} stroke={BROWN} />
        <path d={dLine(blueMean) || ""} stroke="#0000ff" />
        <path d={dLine(orangeMean) || ""} stroke={ORANGE} />
        <path d={dLine(greenMean) || ""} stroke={DGREEN} />
      </g>
      <Spines x0={dL} x1={dR} y0={dT} y1={dB} />
      {logMinor(7.78).map((v) => (
        <line key={v} x1={dx(v)} x2={dx(v)} y1={dB - 2.5} y2={dB} stroke={AXIS} strokeWidth={0.8} />
      ))}
      {decades8.map((k) => (
        <Pow key={k} x={dx(k)} y={dB + 14} e={k} size={14} />
      ))}
      {ticks04.map((t) => (
        <text key={t} x={dL - 4} y={dy(t) + 5} textAnchor="end" fontSize={14} fill={TXT}>{t}</text>
      ))}
      <text transform="translate(681,457) rotate(-90)" textAnchor="middle" fill={TXT} fontStyle="italic" fontSize={17} textDecoration="overline">CDE</text>
      <text x={890} y={577.5} fontSize={16} textAnchor="middle" fill={TXT}>Monte Carlo steps</text>
    </svg>
  );
}
